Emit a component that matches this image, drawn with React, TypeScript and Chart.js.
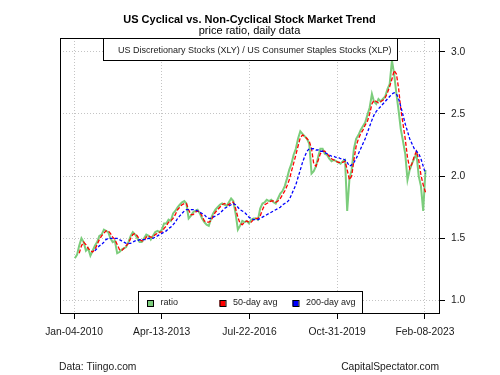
import React, { useEffect, useRef } from 'react';
import { Chart, registerables } from 'chart.js';

Chart.register(...registerables);

// ---- data (monthly readings, Jan 2010 .. Feb 2023) ----
const startDate = Date.UTC(2010, 0, 4);
const firstYear = 2010;
const tickDates = [Date.UTC(2010, 0, 4), Date.UTC(2013, 3, 13), Date.UTC(2016, 6, 22), Date.UTC(2019, 9, 31), Date.UTC(2023, 1, 8)];
const tickLabels = ['Jan-04-2010', 'Apr-13-2013', 'Jul-22-2016', 'Oct-31-2019', 'Feb-08-2023'];
const yTicks = [1.0, 1.5, 2.0, 2.5, 3.0];

const ratio = [
  1.34, 1.37, 1.44, 1.50, 1.47, 1.40, 1.42, 1.36, 1.40, 1.44, 1.47, 1.52,
  1.53, 1.57, 1.56, 1.55, 1.50, 1.47, 1.48, 1.38, 1.39, 1.41, 1.42, 1.43,
  1.47, 1.52, 1.55, 1.53, 1.50, 1.47, 1.47, 1.50, 1.53, 1.52, 1.49, 1.52,
  1.55, 1.56, 1.55, 1.57, 1.62, 1.62, 1.65, 1.64, 1.70, 1.72, 1.75, 1.77,
  1.79, 1.80, 1.78, 1.66, 1.68, 1.71, 1.72, 1.73, 1.70, 1.66, 1.63, 1.61,
  1.60, 1.66, 1.70, 1.73, 1.75, 1.77, 1.78, 1.77, 1.76, 1.79, 1.82, 1.80,
  1.70, 1.57, 1.60, 1.64, 1.63, 1.64, 1.62, 1.65, 1.66, 1.66, 1.65, 1.74,
  1.78, 1.79, 1.81, 1.80, 1.81, 1.79, 1.78, 1.82, 1.86, 1.88, 1.92, 1.98,
  2.05, 2.10, 2.17, 2.22, 2.30, 2.36, 2.34, 2.32, 2.30, 2.26, 2.02, 2.04,
  2.08, 2.16, 2.22, 2.22, 2.18, 2.17, 2.14, 2.12, 2.13, 2.12, 2.11, 2.10,
  2.12, 2.13, 1.72, 1.98, 2.05, 2.22, 2.30, 2.33, 2.37, 2.40, 2.43, 2.49,
  2.55, 2.66, 2.60, 2.58, 2.62, 2.60, 2.62, 2.64, 2.70, 2.74, 2.93, 2.82,
  2.66, 2.52, 2.38, 2.28, 2.18, 1.97, 2.05, 2.10, 2.14, 2.18, 2.00, 1.92,
  1.72, 2.05,
];

const avg50Start = 2; // first month index with a 50-day average
const avg50 = [
  1.38, 1.44, 1.47, 1.45, 1.42, 1.40, 1.39, 1.41, 1.45, 1.49,
  1.52, 1.54, 1.56, 1.56, 1.54, 1.51, 1.49, 1.45, 1.41, 1.40, 1.42, 1.44,
  1.46, 1.50, 1.53, 1.54, 1.52, 1.49, 1.48, 1.48, 1.51, 1.52, 1.51, 1.51,
  1.53, 1.54, 1.55, 1.55, 1.58, 1.60, 1.63, 1.64, 1.66, 1.69, 1.73, 1.75,
  1.77, 1.78, 1.78, 1.73, 1.69, 1.69, 1.71, 1.72, 1.71, 1.68, 1.64, 1.63,
  1.63, 1.64, 1.68, 1.71, 1.73, 1.75, 1.77, 1.78, 1.77, 1.77, 1.79, 1.79,
  1.74, 1.67, 1.62, 1.61, 1.63, 1.64, 1.63, 1.63, 1.65, 1.66, 1.66, 1.68,
  1.73, 1.77, 1.78, 1.79, 1.80, 1.80, 1.79, 1.80, 1.82, 1.85, 1.88, 1.92,
  1.97, 2.04, 2.10, 2.17, 2.24, 2.31, 2.33, 2.32, 2.30, 2.28, 2.22, 2.10,
  2.08, 2.13, 2.18, 2.20, 2.20, 2.18, 2.16, 2.14, 2.13, 2.12, 2.11, 2.11,
  2.11, 2.12, 2.05, 1.97, 2.00, 2.13, 2.24, 2.30, 2.34, 2.37, 2.41, 2.44,
  2.50, 2.58, 2.61, 2.60, 2.59, 2.60, 2.61, 2.63, 2.67, 2.72, 2.78, 2.85,
  2.82, 2.70, 2.54, 2.42, 2.30, 2.15, 2.06, 2.10, 2.16, 2.20, 2.13, 2.01,
  1.93, 1.87,
];

const avg200Start = 9; // first month index with a 200-day average
const avg200 = [
  1.40, 1.42, 1.44,
  1.45, 1.47, 1.49, 1.50, 1.50, 1.50, 1.50, 1.50, 1.49, 1.48, 1.47, 1.46,
  1.46, 1.46, 1.47, 1.48, 1.48, 1.49, 1.49, 1.49, 1.49, 1.50, 1.50, 1.50,
  1.51, 1.52, 1.53, 1.54, 1.55, 1.56, 1.58, 1.59, 1.61, 1.63, 1.66, 1.68,
  1.70, 1.72, 1.73, 1.73, 1.73, 1.73, 1.73, 1.72, 1.71, 1.70, 1.69, 1.67,
  1.66, 1.66, 1.67, 1.68, 1.69, 1.70, 1.72, 1.74, 1.75, 1.76, 1.77, 1.78,
  1.77, 1.75, 1.73, 1.72, 1.71, 1.69, 1.67, 1.66, 1.65, 1.65, 1.65, 1.66,
  1.67, 1.68, 1.69, 1.70, 1.71, 1.72, 1.73, 1.74, 1.75, 1.77, 1.78, 1.79,
  1.81, 1.85, 1.89, 1.93, 1.99, 2.05, 2.11, 2.16, 2.20, 2.22, 2.22, 2.22,
  2.21, 2.21, 2.20, 2.20, 2.19, 2.18, 2.17, 2.16, 2.16, 2.15, 2.15, 2.14,
  2.14, 2.13, 2.11, 2.08, 2.09, 2.11, 2.14, 2.18, 2.22, 2.26, 2.30, 2.35,
  2.40, 2.45, 2.49, 2.52, 2.54, 2.56, 2.58, 2.60, 2.62, 2.64, 2.66, 2.67,
  2.66, 2.62, 2.56, 2.49, 2.42, 2.36, 2.30, 2.26, 2.22, 2.20, 2.18, 2.14,
  2.08, 2.02,
];

const titleText = 'US Cyclical vs. Non-Cyclical Stock Market Trend';
const subtitleText = 'price ratio, daily data';
const topLegendText = 'US Discretionary Stocks (XLY) / US Consumer Staples Stocks (XLP)';
const legendLabels = ['ratio', '50-day avg', '200-day avg'];
const footerLeft = 'Data: Tiingo.com';
const footerRight = 'CapitalSpectator.com';

const GREEN = '#7CCD7C';
const RED = '#FF0000';
const BLUE = '#0000FF';
const FONT = "'Liberation Sans', Arial, Helvetica, sans-serif";

const DAY = 86400000;
const monthDay = (m: number) => (Date.UTC(firstYear, m, 15) - startDate) / DAY;
const toPoints = (vals: number[], offset: number) => vals.map((v, i) => ({ x: monthDay(i + offset), y: v }));
const tickDays = tickDates.map((t) => (t - startDate) / DAY);
const dataMin = tickDays[0];
const dataMax = tickDays[tickDays.length - 1];
const pad = (dataMax - dataMin) * 0.04;

const decor = {
  id: 'decor',
  afterDatasetsDraw(chart: any) {
    const ctx = chart.ctx as CanvasRenderingContext2D;
    const a = chart.chartArea;
    ctx.save();
    ctx.lineWidth = 1;
    ctx.strokeStyle = '#000';

    // top legend box
    const tlx = a.left + 43, tly = a.top, tlw = 294, tlh = 22;
    ctx.fillStyle = '#fff';
    ctx.fillRect(tlx, tly, tlw, tlh);
    ctx.strokeRect(tlx + 0.5, tly + 0.5, tlw, tlh);
    ctx.fillStyle = '#1a1a1a';
    ctx.font = `9px ${FONT}`;
    ctx.textBaseline = 'middle';
    ctx.textAlign = 'left';
    ctx.fillText(topLegendText, tlx + 15, tly + 13);

    // bottom legend box
    const blx = a.left + 78, bly = a.bottom - 22, blw = 224, blh = 22;
    ctx.fillStyle = '#fff';
    ctx.fillRect(blx, bly, blw, blh);
    ctx.strokeRect(blx + 0.5, bly + 0.5, blw, blh);
    const cols = [GREEN, RED, BLUE];
    const offs = [9, 81.5, 154.5];
    ctx.font = `9px ${FONT}`;
    for (let i = 0; i < 3; i++) {
      const sx = blx + offs[i];
      ctx.fillStyle = cols[i];
      ctx.fillRect(sx, bly + 9, 6, 6);
      ctx.strokeStyle = '#000';
      ctx.strokeRect(sx + 0.5, bly + 9.5, 6, 6);
      ctx.fillStyle = '#1a1a1a';
      ctx.fillText(legendLabels[i], sx + 13.5, bly + 12);
    }

    // plot frame
    ctx.strokeStyle = '#000';
    ctx.strokeRect(a.left + 0.5, a.top + 0.5, a.right - a.left, a.bottom - a.top);
    ctx.restore();
  },
  afterDraw(chart: any) {
    const ctx = chart.ctx as CanvasRenderingContext2D;
    const a = chart.chartArea;
    const cx = (a.left + a.right) / 2;
    ctx.save();
    ctx.fillStyle = '#000';
    ctx.textAlign = 'center';
    ctx.textBaseline = 'middle';
    ctx.font = `bold 11px ${FONT}`;
    ctx.fillText(titleText, cx, 20);
    ctx.font = `11px ${FONT}`;
    ctx.fillText(subtitleText, cx, 31);
    ctx.font = `10.3px ${FONT}`;
    ctx.fillStyle = '#1a1a1a';
    ctx.textAlign = 'left';
    ctx.fillText(footerLeft, a.left - 1, 367);
    ctx.textAlign = 'right';
    ctx.fillText(footerRight, a.right, 367);
    ctx.restore();
  },
};

export default function App() {
  const ref = useRef<HTMLCanvasElement>(null);
  useEffect(() => {
    if (!ref.current) return;
    const chart = new Chart(ref.current, {
      type: 'line',
      data: {
        datasets: [
          { label: legendLabels[0], data: toPoints(ratio, 0), borderColor: GREEN, borderWidth: 2, pointRadius: 0, order: 3 },
          { label: legendLabels[1], data: toPoints(avg50, avg50Start), borderColor: RED, borderWidth: 1.3, borderDash: [4, 2], pointRadius: 0, order: 2 },
          { label: legendLabels[2], data: toPoints(avg200, avg200Start), borderColor: BLUE, borderWidth: 1.3, borderDash: [3, 2], pointRadius: 0, order: 1 },
        ],
      },
      options: {
        animation: false,
        responsive: false,
        maintainAspectRatio: false,
        layout: { padding: { top: 38, left: 60, right: 0, bottom: 0 } },
        plugins: { legend: { display: false }, title: { display: false }, tooltip: { enabled: false } },
        scales: {
          x: {
            type: 'linear',
            min: dataMin - pad,
            max: dataMax + pad,
            afterBuildTicks: (s: any) => { s.ticks = tickDays.map((v) => ({ value: v })); },
            afterFit: (s: any) => { s.height = 62; },
            ticks: {
              autoSkip: false,
              maxRotation: 0,
              padding: 7,
              color: '#1a1a1a',
              font: { family: FONT, size: 10.3 },
              callback: (_v: any, i: number) => tickLabels[i],
            },
            grid: { color: '#c4c4c4', lineWidth: 1, tickLength: 6, tickColor: '#000', tickBorderDash: [] },
            border: { display: false, dash: [1, 2] },
          },
          y: {
            type: 'linear',
            position: 'right',
            min: 0.9,
            max: 3.11,
            afterBuildTicks: (s: any) => { s.ticks = yTicks.map((v) => ({ value: v })); },
            afterFit: (s: any) => { s.width = 61; },
            ticks: {
              padding: 6,
              color: '#1a1a1a',
              font: { family: FONT, size: 10.3 },
              callback: (v: any) => Number(v).toFixed(1),
            },
            grid: { color: '#c4c4c4', lineWidth: 1, tickLength: 6, tickColor: '#000', tickBorderDash: [] },
            border: { display: false, dash: [1, 2] },
          },
        },
      },
      plugins: [decor],
    } as any);
    return () => chart.destroy();
  }, []);
  return (
    <div style={{ position: 'absolute', left: 0, top: 0, width: 500, height: 375, background: '#fff' }}>
      <canvas ref={ref} width={500} height={375} style={{ display: 'block', width: 500, height: 375 }} />
    </div>
  );
}
